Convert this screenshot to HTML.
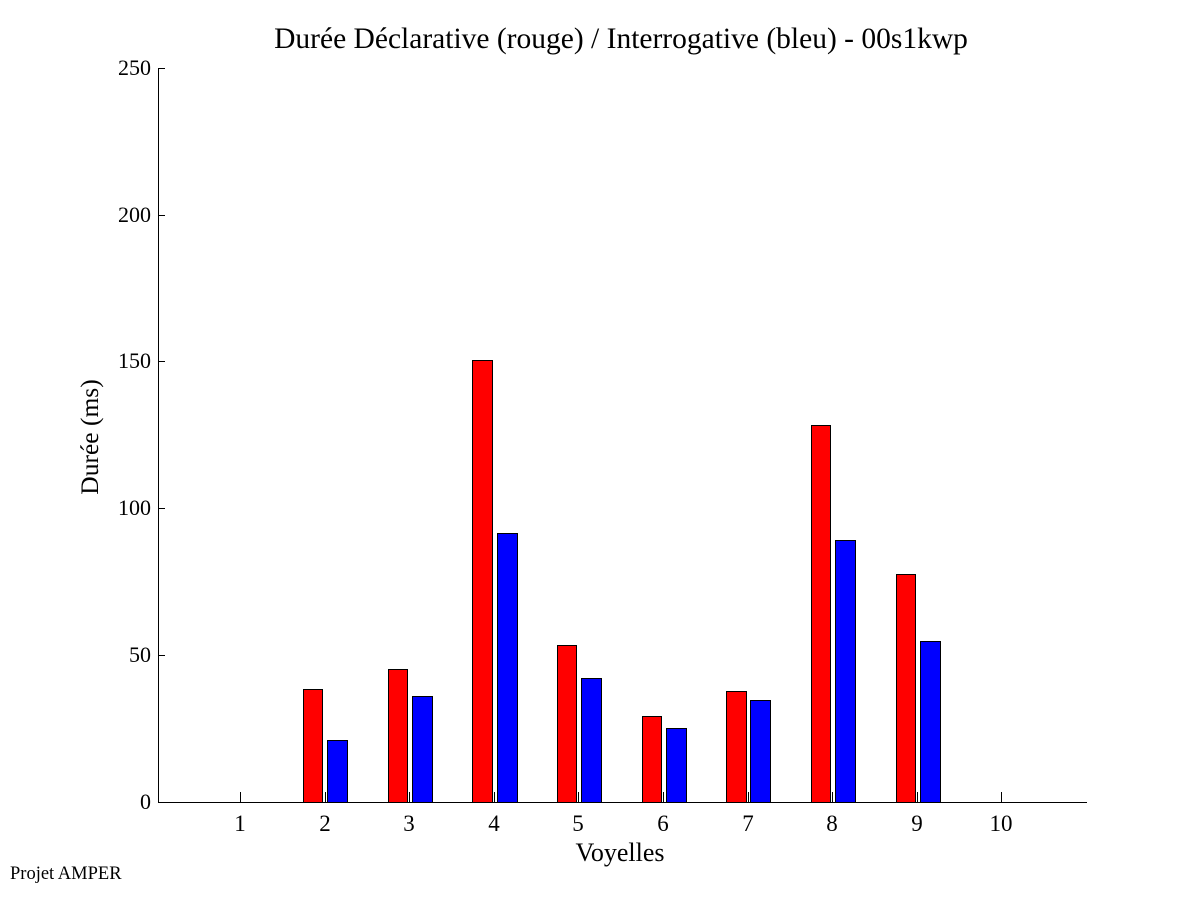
<!DOCTYPE html><html><head><style>body{margin:0;background:#fff}svg{display:block}text{font-family:"Liberation Serif",serif;fill:#000}</style></head><body>
<svg width="1201" height="901" xmlns="http://www.w3.org/2000/svg">
<rect width="1201" height="901" fill="#fff"/>
<text x="621" y="48" font-size="29.5" text-anchor="middle">Durée Déclarative (rouge) / Interrogative (bleu) - 00s1kwp</text>
<g stroke="#000" stroke-width="1" shape-rendering="crispEdges">
<line x1="158.5" y1="68" x2="158.5" y2="802"/>
<line x1="158" y1="802.5" x2="1087" y2="802.5"/>
<line x1="158" y1="68.5" x2="165" y2="68.5"/>
<line x1="158" y1="215.5" x2="165" y2="215.5"/>
<line x1="158" y1="361.5" x2="165" y2="361.5"/>
<line x1="158" y1="508.5" x2="165" y2="508.5"/>
<line x1="158" y1="655.5" x2="165" y2="655.5"/>
</g>
<g font-size="22" text-anchor="end">
<text x="151" y="809">0</text><text x="151" y="662">50</text><text x="151" y="515">100</text><text x="151" y="368">150</text><text x="151" y="222">200</text><text x="151" y="75">250</text>
</g>
<text transform="translate(98,437) rotate(-90)" font-size="25.5" text-anchor="middle">Durée (ms)</text>
<text x="620" y="861" font-size="26" text-anchor="middle">Voyelles</text>
<text x="10" y="879" font-size="18.5">Projet AMPER</text>
<g stroke="#000" stroke-width="1" shape-rendering="crispEdges">
<rect x="303.5" y="689.5" width="19" height="113" fill="#f00"/><rect x="327.5" y="740.5" width="20" height="62" fill="#00f"/>
<rect x="388.5" y="669.5" width="19" height="133" fill="#f00"/><rect x="412.5" y="696.5" width="20" height="106" fill="#00f"/>
<rect x="472.5" y="360.5" width="20" height="442" fill="#f00"/><rect x="497.5" y="533.5" width="20" height="269" fill="#00f"/>
<rect x="557.5" y="645.5" width="19" height="157" fill="#f00"/><rect x="581.5" y="678.5" width="20" height="124" fill="#00f"/>
<rect x="642.5" y="716.5" width="19" height="86" fill="#f00"/><rect x="666.5" y="728.5" width="20" height="74" fill="#00f"/>
<rect x="726.5" y="691.5" width="20" height="111" fill="#f00"/><rect x="750.5" y="700.5" width="20" height="102" fill="#00f"/>
<rect x="811.5" y="425.5" width="19" height="377" fill="#f00"/><rect x="835.5" y="540.5" width="20" height="262" fill="#00f"/>
<rect x="896.5" y="574.5" width="19" height="228" fill="#f00"/><rect x="920.5" y="641.5" width="20" height="161" fill="#00f"/>
</g>
<g stroke="#000" stroke-width="1" shape-rendering="crispEdges">
<line x1="240.5" y1="792" x2="240.5" y2="802"/><line x1="325.5" y1="792" x2="325.5" y2="802"/><line x1="409.5" y1="792" x2="409.5" y2="802"/><line x1="494.5" y1="792" x2="494.5" y2="802"/><line x1="578.5" y1="792" x2="578.5" y2="802"/><line x1="663.5" y1="792" x2="663.5" y2="802"/><line x1="748.5" y1="792" x2="748.5" y2="802"/><line x1="832.5" y1="792" x2="832.5" y2="802"/><line x1="917.5" y1="792" x2="917.5" y2="802"/><line x1="1001.5" y1="792" x2="1001.5" y2="802"/>
</g>
<g font-size="23" text-anchor="middle">
<text x="240" y="831">1</text><text x="325" y="831">2</text><text x="409" y="831">3</text><text x="494" y="831">4</text><text x="578" y="831">5</text><text x="663" y="831">6</text><text x="748" y="831">7</text><text x="832" y="831">8</text><text x="917" y="831">9</text><text x="1001" y="831">10</text>
</g>
</svg></body></html>
